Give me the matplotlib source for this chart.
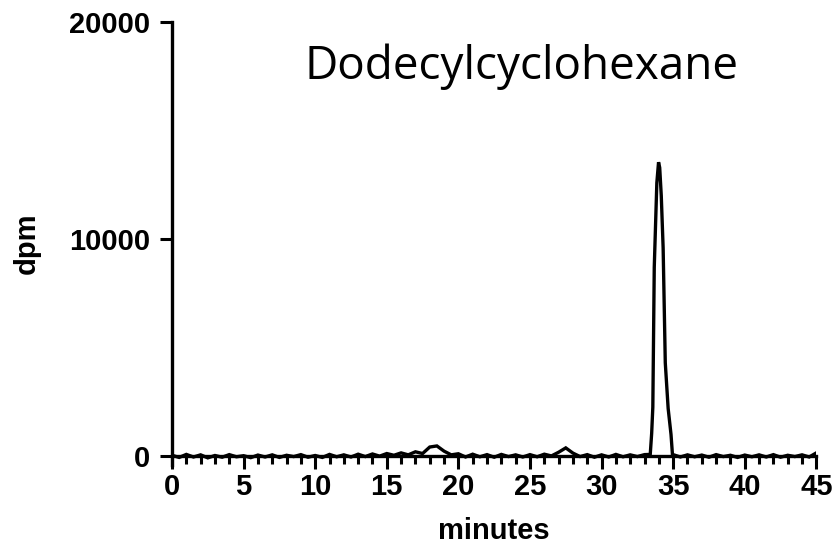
import matplotlib.pyplot as plt
from matplotlib.ticker import MultipleLocator

# radio-HPLC trace, dpm per time point
baseline_t = [0.0, 0.5, 1.0, 1.5, 2.0, 2.5, 3.0, 3.5, 4.0, 4.5,
              5.0, 5.5, 6.0, 6.5, 7.0, 7.5, 8.0, 8.5, 9.0, 9.5,
              10.0, 10.5, 11.0, 11.5, 12.0, 12.5, 13.0, 13.5, 14.0, 14.5,
              15.0, 15.5, 16.0, 16.5, 17.0, 17.5, 18.0, 18.5, 19.0, 19.5,
              20.0, 20.5, 21.0, 21.5, 22.0, 22.5, 23.0, 23.5, 24.0, 24.5,
              25.0, 25.5, 26.0, 26.5, 27.0, 27.5, 28.0, 28.5, 29.0, 29.5,
              30.0, 30.5, 31.0, 31.5, 32.0, 32.5, 33.0]
baseline_dpm = [40, -60, 80, -40, 60, -80, 30, -50, 70, -30,
                20, -70, 50, -40, 60, -60, 40, -20, 70, -50,
                30, -60, 80, -30, 60, -40, 90, -20, 100, 0,
                120, 40, 150, 60, 200, 120, 420, 470, 230, 60,
                110, -40, 90, -30, 70, -50, 80, -20, 60, -40,
                70, -30, 90, 10, 180, 380, 140, -20, 70, -50,
                60, -40, 80, -30, 60, -20, 70]

peak_t = [33.40, 33.50, 33.58, 33.68, 33.86, 33.98, 34.06, 34.17,
          34.30, 34.45, 34.65, 34.85, 34.95]
peak_dpm = [80, 1060, 2260, 8700, 12600, 13550, 13300, 12000,
            9600, 4300, 2200, 1000, 80]

tail_t = [35.5, 36.0, 36.5, 37.0, 37.5, 38.0, 38.5, 39.0, 39.5, 40.0,
          40.5, 41.0, 41.5, 42.0, 42.5, 43.0, 43.5, 44.0, 44.5, 45.0]
tail_dpm = [-40, 60, -30, 50, -50, 70, -20, 40, -60, 50,
            -30, 60, -40, 70, -50, 40, -20, 60, -40, 150]

minutes = baseline_t + peak_t + tail_t
dpm = baseline_dpm + peak_dpm + tail_dpm

plt.rcParams['font.family'] = 'Liberation Sans'
plt.rcParams['font.weight'] = 'bold'

fig = plt.figure(figsize=(8.39, 5.56), dpi=100)
ax = fig.add_axes([0.205, 0.164, 0.768, 0.796])

ax.plot(minutes, dpm, color='black', lw=2.4, solid_joinstyle='miter')

ax.set_xlim(0, 45)
ax.set_ylim(-400, 20000)
ax.spines['top'].set_visible(False)
ax.spines['right'].set_visible(False)
ax.spines['bottom'].set_position(('data', 0))
for s in ('left', 'bottom'):
    ax.spines[s].set_linewidth(2.4)

ax.xaxis.set_major_locator(MultipleLocator(5))
ax.xaxis.set_minor_locator(MultipleLocator(1))
ax.set_yticks([0, 10000, 20000])
ax.tick_params(axis='both', which='major', length=9, width=2.2,
               labelsize=21)
ax.tick_params(axis='x', which='major', pad=3)
ax.tick_params(axis='y', which='major', pad=7)
ax.tick_params(axis='x', which='minor', length=6, width=2.2)

ax.set_xlabel('minutes', fontsize=21, fontweight='bold', labelpad=12)
ax.set_ylabel('dpm', fontsize=21, fontweight='bold', labelpad=20)

fig.text(0.622, 0.88, 'Dodecylcyclohexane', fontsize=33,
         fontweight='normal', family='Open Sans', ha='center', va='center')

fig.savefig('out.png', dpi=100)
